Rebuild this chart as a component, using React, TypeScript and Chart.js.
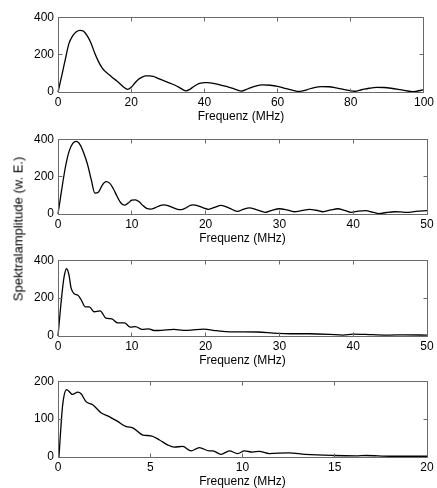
import React, { useEffect, useRef } from "react";
import { Chart, registerables } from "chart.js";

Chart.register(...registerables);

// ---- Data ----
const freq1 = [0,1,2,3,4,5,6,7,8,9,10,11,12,13,14,15,16,17,18,19,20,21,22,23,24,25,26,27,28,29,30,31,32,33,34,35,36,37,38,39,40,41,42,44,46,48,50,52,54,56,58,60,62,64,66,68,70,72,74,76,78,80,81,83,85,87,89,91,93,95,97,99,100];
const amp1 = [0,85,175,260,300,322,330,325,300,262,210,165,130,108,92,75,60,43,25,14,25,48,68,80,86,86,83,76,68,60,52,44,36,26,14,6,14,28,40,47,50,50,48,40,30,18,5,18,32,38,36,30,20,10,3,12,24,29,28,22,14,6,4,12,20,25,24,20,14,7,2,8,13];

const freq2 = [0,0.5,1,1.5,2,2.5,3,3.5,4,4.5,5,5.5,6,6.5,7,7.5,8,8.5,9,9.5,10,10.5,11,11.5,12,12.6,13.2,13.8,14.3,14.9,15.5,16.1,16.7,17.3,17.8,18.3,18.9,19.6,20.4,21.2,22.1,23.2,24.3,25.1,25.9,27,28.1,29,30,31,32,33,34.1,35,35.9,37,37.9,38.8,39.7,40.7,41.7,42.6,43.5,44.5,45.6,46.4,47.2,48.5,50];
const amp2 = [0,130,250,335,378,388,370,325,265,185,112,118,155,173,165,135,95,60,47,58,74,76,65,45,30,26,34,45,49,45,35,26,23,32,44,49,45,34,25,35,46,32,14,25,33,22,9,20,28,22,12,18,25,20,12,22,28,20,9,15,18,10,2,8,12,11,9,14,18];

const freq3 = [0,0.4,0.8,1.17,1.5,1.76,2.2,2.66,3.1,3.7,4.25,4.9,5.7,6.5,7.3,8.1,9,9.8,10.5,11.4,12.3,13,14,15.7,17,18,19.7,21.5,23.3,25.2,27,29.7,31.5,34,36.8,38.6,40,42.6,44.9,47,50];
const amp3 = [0,170,306,355,320,255,223,216,194,154,154,128,133,94,90,69,69,47,50,35,38,29,30,35,30,31,36,28,22,22,21,14,12,12,9,5,10,7,5,6,5];

const freq4 = [0.05,0.25,0.47,0.79,1.07,1.25,1.52,1.88,2.33,2.8,3.23,3.7,4.05,4.6,5.04,5.5,5.94,6.3,6.76,7.21,7.66,8.2,8.4,8.83,9.29,9.74,10.1,10.55,10.9,11.45,12.5,13.4,14.9,16.15,16.7,18,20];
const amp4 = [0,136,178,165,171,167,146,138,117,106,94,80,77,58,56,45,32,26,28,16,25,16,16,7,16,9,16,13,15,9,11,7,4,3,4,2,2];

const xMax = [100, 50, 50, 20];
const xStep = [20, 10, 10, 5];
const yMax = [400, 400, 400, 200];
const yStep = [200, 200, 200, 100];
const xTitle = "Frequenz (MHz)";
const yTitle = "Spektralamplitude (w. E.)";

const series = [
  { freq: freq1, amp: amp1 },
  { freq: freq2, amp: amp2 },
  { freq: freq3, amp: amp3 },
  { freq: freq4, amp: amp4 },
];

// ---- Layout (pixel positions of the plot boxes) ----
const plotTops = [16, 138, 259, 380];
const plotBottoms = [92, 214, 336, 457];
const PAD_TOP = 10;
const X_AXIS_H = 32;
const Y_AXIS_W = 58;
const PAD_RIGHT = 10;
const W = 437;

const FONT = "'Liberation Sans', Arial, Helvetica, sans-serif";

const boxPlugin = {
  id: "matlabBox",
  afterDraw(chart: any) {
    const { ctx, chartArea: a, scales } = chart;
    const L = Math.floor(a.left) + 0.5;
    const R = Math.floor(a.right) + 0.5;
    const T = Math.floor(a.top) + 0.5;
    const B = Math.floor(a.bottom) + 0.5;
    const tl = 4;
    ctx.save();
    ctx.strokeStyle = "#6a6a6a";
    ctx.lineWidth = 1;
    ctx.beginPath();
    ctx.rect(L, T, R - L, B - T);
    const xs = scales.x;
    xs.ticks.forEach((t: any) => {
      const px = Math.floor(xs.getPixelForValue(t.value)) + 0.5;
      ctx.moveTo(px, B);
      ctx.lineTo(px, B - tl);
      ctx.moveTo(px, T);
      ctx.lineTo(px, T + tl);
    });
    const ys = scales.y;
    ys.ticks.forEach((t: any) => {
      const py = Math.floor(ys.getPixelForValue(t.value)) + 0.5;
      ctx.moveTo(L, py);
      ctx.lineTo(L + tl, py);
      ctx.moveTo(R, py);
      ctx.lineTo(R - tl, py);
    });
    ctx.stroke();
    ctx.restore();
  },
};

function makeConfig(i: number): any {
  const { freq, amp } = series[i];
  const tickFont = { family: FONT, size: 12 };
  return {
    type: "line",
    data: {
      datasets: [
        {
          data: freq.map((f, k) => ({ x: f, y: amp[k] })),
          borderColor: "#000",
          borderWidth: 1.3,
          pointRadius: 0,
          fill: false,
          cubicInterpolationMode: "monotone",
          clip: false,
        },
      ],
    },
    options: {
      responsive: false,
      animation: false,
      events: [],
      layout: { padding: { top: PAD_TOP, right: PAD_RIGHT, bottom: 0, left: 0 } },
      plugins: { legend: { display: false }, tooltip: { enabled: false } },
      scales: {
        x: {
          type: "linear",
          min: 0,
          max: xMax[i],
          ticks: {
            stepSize: xStep[i],
            font: tickFont,
            color: "#000",
            padding: 3,
            maxRotation: 0,
            autoSkip: false,
          },
          grid: { display: false, drawTicks: false },
          border: { display: false },
          title: {
            display: true,
            text: xTitle,
            font: tickFont,
            color: "#000",
            padding: 0,
          },
          afterFit: (s: any) => {
            s.height = X_AXIS_H;
          },
        },
        y: {
          type: "linear",
          min: 0,
          max: yMax[i],
          ticks: {
            stepSize: yStep[i],
            font: tickFont,
            color: "#000",
            padding: 4,
          },
          grid: { display: false, drawTicks: false },
          border: { display: false },
          afterFit: (s: any) => {
            s.width = Y_AXIS_W;
          },
        },
      },
    },
    plugins: [boxPlugin],
  };
}

export default function App() {
  const refs = [
    useRef<HTMLCanvasElement>(null),
    useRef<HTMLCanvasElement>(null),
    useRef<HTMLCanvasElement>(null),
    useRef<HTMLCanvasElement>(null),
  ];

  useEffect(() => {
    const charts: Chart[] = [];
    refs.forEach((r, i) => {
      if (r.current) charts.push(new Chart(r.current, makeConfig(i)));
    });
    return () => charts.forEach((c) => c.destroy());
  }, []);

  return (
    <div
      style={{
        position: "absolute",
        left: 0,
        top: 0,
        width: W,
        height: 488,
        background: "#fff",
        overflow: "hidden",
      }}
    >
      {refs.map((r, i) => {
        const top = plotTops[i] - PAD_TOP;
        const h = plotBottoms[i] - plotTops[i] + PAD_TOP + X_AXIS_H;
        return (
          <canvas
            key={i}
            ref={r}
            width={W}
            height={h}
            style={{ position: "absolute", left: 0, top, width: W, height: h }}
          />
        );
      })}
      <div
        style={{
          position: "absolute",
          left: 18,
          top: 229,
          transform: "translate(-50%, -50%) rotate(-90deg)",
          whiteSpace: "nowrap",
          fontFamily: FONT,
          fontSize: 13,
          color: "#000",
          lineHeight: "15px",
        }}
      >
        {yTitle}
      </div>
    </div>
  );
}
